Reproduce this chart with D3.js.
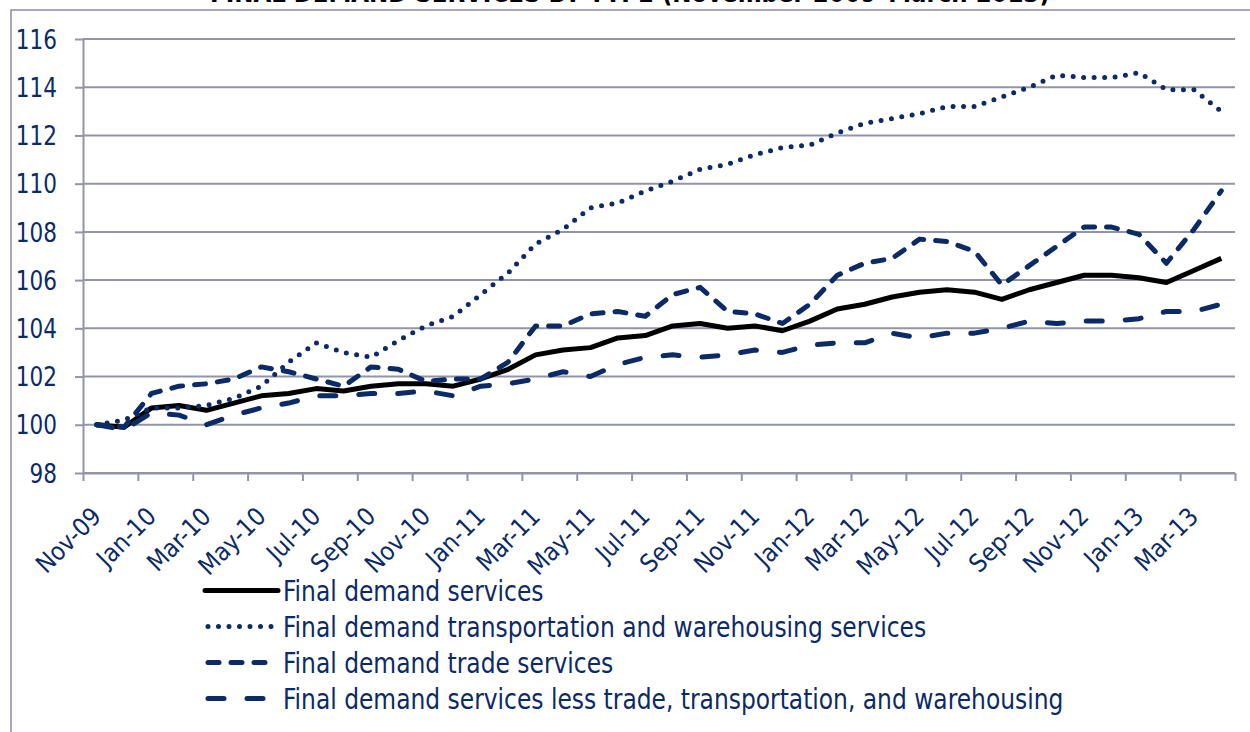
<!DOCTYPE html>
<html>
<head>
<meta charset="utf-8">
<script src="https://cdn.jsdelivr.net/npm/d3@7"></script>
<style>
  body { margin: 0; background: #fff; }
  svg { display: block; }
  text { font-family: "DejaVu Sans Condensed", "DejaVu Sans", sans-serif; font-stretch: condensed; }
</style>
</head>
<body>
<svg id="chart" width="1250" height="732"></svg>
<script>
// категории (месяцы)
const months = ["Nov-09","Dec-09","Jan-10","Feb-10","Mar-10","Apr-10","May-10","Jun-10","Jul-10","Aug-10",
                "Sep-10","Oct-10","Nov-10","Dec-10","Jan-11","Feb-11","Mar-11","Apr-11","May-11","Jun-11",
                "Jul-11","Aug-11","Sep-11","Oct-11","Nov-11","Dec-11","Jan-12","Feb-12","Mar-12","Apr-12",
                "May-12","Jun-12","Jul-12","Aug-12","Sep-12","Oct-12","Nov-12","Dec-12","Jan-13","Feb-13",
                "Mar-13","Apr-13"];

// подписи по оси OX - каждый второй месяц
const monthLabels = ["Nov-09","Jan-10","Mar-10","May-10","Jul-10","Sep-10","Nov-10","Jan-11","Mar-11","May-11",
                     "Jul-11","Sep-11","Nov-11","Jan-12","Mar-12","May-12","Jul-12","Sep-12","Nov-12","Jan-13","Mar-13"];

const yTicks = [98, 100, 102, 104, 106, 108, 110, 112, 114, 116];

const services  = [100.0, 99.9, 100.7, 100.8, 100.6, 100.9, 101.2, 101.3, 101.5, 101.4,
                   101.6, 101.7, 101.7, 101.6, 101.9, 102.3, 102.9, 103.1, 103.2, 103.6,
                   103.7, 104.1, 104.2, 104.0, 104.1, 103.9, 104.3, 104.8, 105.0, 105.3,
                   105.5, 105.6, 105.5, 105.2, 105.6, 105.9, 106.2, 106.2, 106.1, 105.9,
                   106.4, 106.9];

const transport = [100.0, 100.2, 100.7, 100.7, 100.8, 101.1, 101.6, 102.6, 103.4, 103.0,
                   102.8, 103.5, 104.1, 104.5, 105.4, 106.3, 107.5, 108.1, 109.0, 109.2,
                   109.7, 110.1, 110.6, 110.8, 111.2, 111.5, 111.6, 112.1, 112.5, 112.7,
                   112.9, 113.2, 113.2, 113.6, 114.0, 114.5, 114.4, 114.4, 114.6, 113.9,
                   113.9, 113.0];

const trade     = [100.0, 99.9, 101.3, 101.6, 101.7, 101.9, 102.4, 102.2, 101.9, 101.6,
                   102.4, 102.3, 101.8, 101.9, 101.9, 102.6, 104.1, 104.1, 104.6, 104.7,
                   104.5, 105.4, 105.7, 104.7, 104.6, 104.2, 105.0, 106.2, 106.7, 106.9,
                   107.7, 107.6, 107.2, 105.8, 106.6, 107.4, 108.2, 108.2, 107.9, 106.7,
                   108.1, 109.7];

const lessTTW   = [100.0, 99.8, 100.5, 100.4, 100.0, 100.4, 100.7, 100.9, 101.2, 101.2,
                   101.3, 101.3, 101.4, 101.2, 101.6, 101.7, 101.9, 102.2, 102.0, 102.5,
                   102.8, 102.9, 102.8, 102.9, 103.1, 103.0, 103.3, 103.4, 103.4, 103.8,
                   103.6, 103.8, 103.8, 104.0, 104.3, 104.2, 104.3, 104.3, 104.4, 104.7,
                   104.7, 105.0];

const seriesNames = ["Final demand services",
                     "Final demand transportation and warehousing services",
                     "Final demand trade services",
                     "Final demand services less trade, transportation, and warehousing"];

const navy = "#0b2a66";
const gridColor = "#9294a9";
const stretch = 1.12; // текст в оригинале немного вытянут по вертикали

// стили линий: сплошная, точки, штрих, длинный штрих
const lineStyles = [
    { color: "#000000", dash: null },
    { color: navy, dash: "0 10.5" },
    { color: navy, dash: "11 12" },
    { color: navy, dash: "16 23" }
];

function drawChart() {
    const svg = d3.select("#chart");

    const area = { left: 83, right: 1235, top: 39, bottom: 473 };

    // рамка области диаграммы
    svg.append("path")
        .attr("d", "M11,732 V10 H1250")
        .style("fill", "none")
        .style("stroke", "#8c8ca6")
        .style("stroke-width", 1.5);

    // заголовок (в оригинале обрезан сверху)
    svg.append("text")
        .attr("transform", `translate(630, 2) scale(1, ${stretch})`)
        .attr("text-anchor", "middle")
        .style("font-weight", "bold")
        .style("font-size", "25.5px")
        .style("fill", "#000")
        .text("FINAL DEMAND SERVICES BY TYPE (November 2009\u2013March 2013)");

    const scaleX = d3.scaleBand()
        .domain(months)
        .range([area.left, area.right])
        .padding(0);

    const scaleY = d3.scaleLinear()
        .domain([98, 116])
        .range([area.bottom, area.top]);

    // горизонтальная сетка
    svg.append("g")
        .selectAll("line")
        .data(yTicks)
        .enter()
        .append("line")
        .attr("x1", area.left)
        .attr("x2", area.right)
        .attr("y1", d => scaleY(d))
        .attr("y2", d => scaleY(d))
        .style("stroke", gridColor)
        .style("stroke-width", 2);

    // ось OY (засечки), подписи рисуем отдельно
    const axisY = d3.axisLeft(scaleY)
        .tickValues(yTicks)
        .tickSize(8)
        .tickSizeOuter(0)
        .tickFormat("");

    const gY = svg.append("g")
        .attr("transform", `translate(${area.left}, 0)`)
        .call(axisY);
    gY.select(".domain").style("stroke", gridColor).style("stroke-width", 2);
    gY.selectAll(".tick line").style("stroke", gridColor).style("stroke-width", 2);

    svg.append("g")
        .selectAll("text")
        .data(yTicks)
        .enter()
        .append("text")
        .attr("transform", d => `translate(${area.left - 26}, ${scaleY(d)}) scale(1, ${stretch})`)
        .attr("dy", "0.36em")
        .attr("text-anchor", "end")
        .style("font-size", "24px")
        .style("fill", navy)
        .text(d => d);

    // ось OX: засечки на границах каждой второй категории
    const scaleIdx = d3.scaleLinear()
        .domain([0, months.length])
        .range([area.left, area.right]);

    const axisX = d3.axisBottom(scaleIdx)
        .tickValues(d3.range(0, months.length + 1, 2))
        .tickSize(8)
        .tickSizeOuter(0)
        .tickFormat("");

    const gX = svg.append("g")
        .attr("transform", `translate(0, ${area.bottom})`)
        .call(axisX);
    gX.select(".domain").style("stroke", gridColor).style("stroke-width", 2);
    gX.selectAll(".tick line").style("stroke", gridColor).style("stroke-width", 2);

    // наклонные подписи месяцев
    svg.append("g")
        .selectAll("text")
        .data(monthLabels)
        .enter()
        .append("text")
        .attr("transform", d => `translate(${scaleX(d) + scaleX.bandwidth() / 2 + 6}, ${area.bottom + 45}) rotate(-45)`)
        .attr("text-anchor", "end")
        .style("font-size", "25px")
        .style("fill", navy)
        .text(d => d);

    // линии рядов
    const allSeries = [services, transport, trade, lessTTW];

    const lineGenerator = d3.line()
        .x((d, i) => scaleX(months[i]) + scaleX.bandwidth() / 2)
        .y(d => scaleY(d));

    allSeries.forEach((values, k) => {
        const st = lineStyles[k];
        svg.append("path")
            .attr("d", lineGenerator(values))
            .style("fill", "none")
            .style("stroke", st.color)
            .style("stroke-width", 5)
            .style("stroke-linejoin", "round")
            .style("stroke-linecap", st.dash ? "round" : "butt")
            .style("stroke-dasharray", st.dash);
    });

    // легенда
    const legend = svg.append("g");
    const rowY = [590.5, 626.5, 662.5, 698.5];

    seriesNames.forEach((name, k) => {
        const st = lineStyles[k];
        legend.append("line")
            .attr("x1", st.dash ? 208 : 205)
            .attr("x2", st.dash ? 276 : 278)
            .attr("y1", rowY[k])
            .attr("y2", rowY[k])
            .style("stroke", st.color)
            .style("stroke-width", 5)
            .style("stroke-linecap", "round")
            .style("stroke-dasharray", st.dash);

        legend.append("text")
            .attr("transform", `translate(283, ${rowY[k]}) scale(1, ${stretch})`)
            .attr("dy", "0.36em")
            .style("font-size", "26px")
            .style("fill", navy)
            .text(name);
    });
}

drawChart();
</script>
</body>
</html>
